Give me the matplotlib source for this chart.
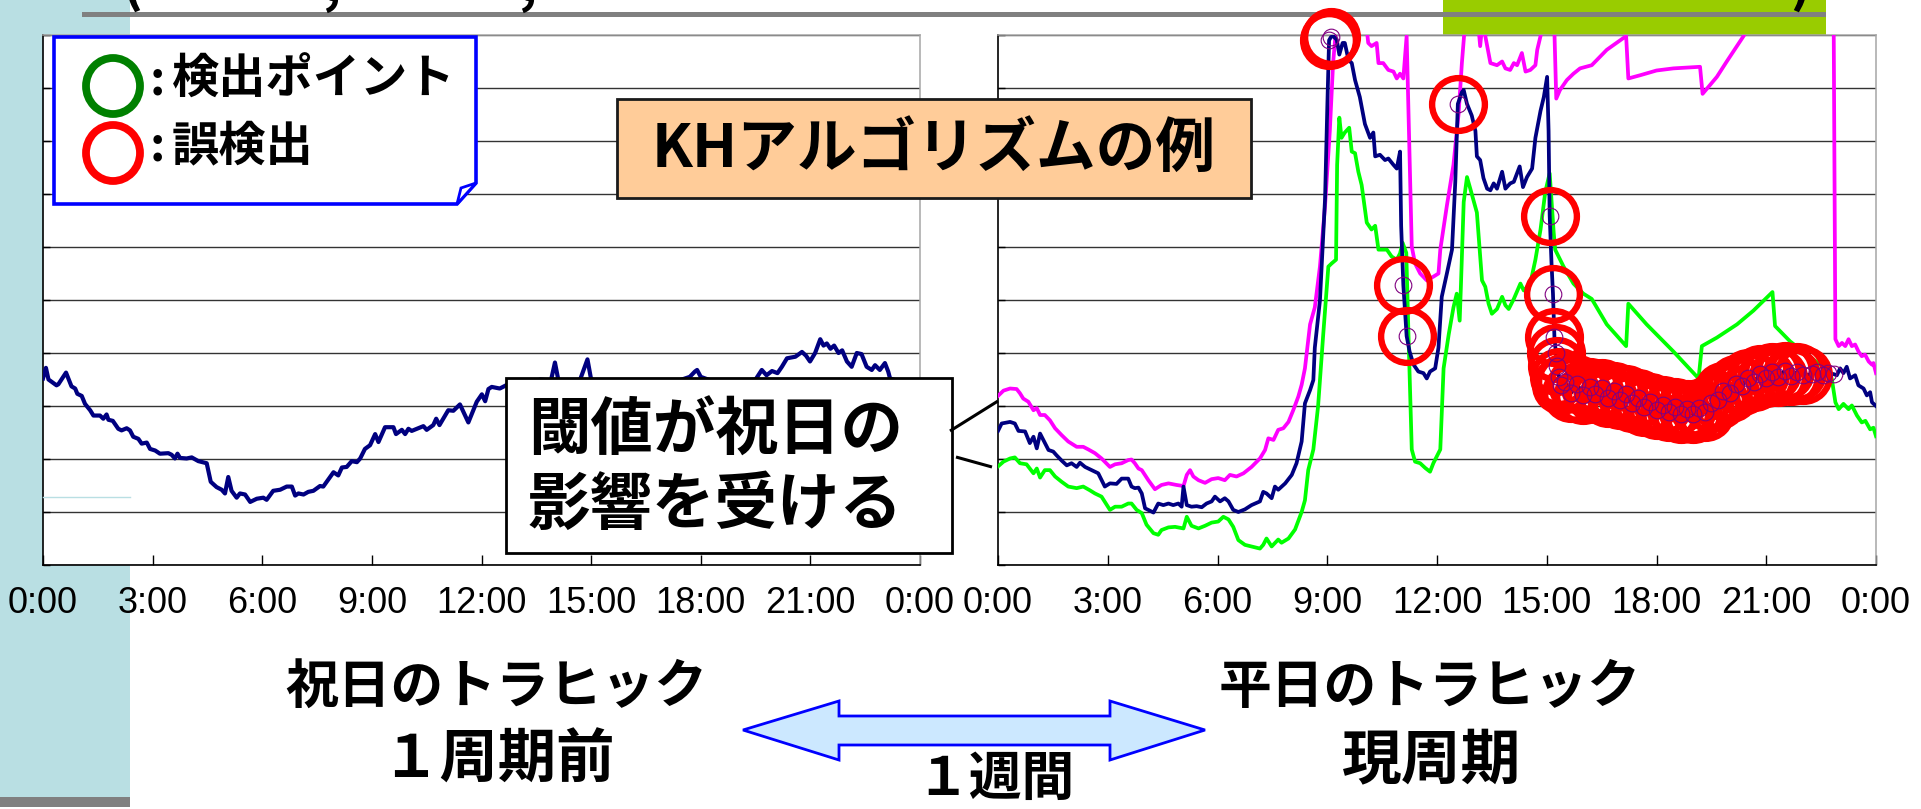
import numpy as np
import matplotlib
matplotlib.use("Agg")
import matplotlib.pyplot as plt
from matplotlib.patches import Polygon, Rectangle, Ellipse

W, H, DPI = 1921, 809, 100
CJK = ["Noto Sans CJK JP", "DejaVu Sans"]
NARROW = ["Liberation Sans Narrow", "Liberation Sans", "DejaVu Sans"]

# ---- time axis ----
tick_hours = [0, 3, 6, 9, 12, 15, 18, 21, 24]
tick_labels = ["0:00", "3:00", "6:00", "9:00", "12:00", "15:00", "18:00", "21:00", "0:00"]

# ---- holiday traffic, one period earlier (hour, level) ----
hol_pts = [
    (0.00, 3.52), (0.08, 3.72), (0.15, 3.50), (0.37, 3.39), (0.42, 3.41), (0.63, 3.63),
    (0.78, 3.37), (0.88, 3.33), (0.94, 3.23), (1.06, 3.19), (1.15, 3.04), (1.29, 2.92),
    (1.38, 2.82), (1.56, 2.82), (1.65, 2.76), (1.74, 2.84), (1.79, 2.74), (1.91, 2.72),
    (2.06, 2.57), (2.15, 2.54), (2.29, 2.58), (2.38, 2.54), (2.47, 2.42), (2.61, 2.38),
    (2.70, 2.29), (2.84, 2.31), (2.93, 2.19), (3.07, 2.16), (3.20, 2.10), (3.43, 2.11),
    (3.52, 2.08), (3.61, 2.01), (3.68, 2.10), (3.75, 2.02), (3.93, 2.01), (4.07, 2.03),
    (4.25, 1.96), (4.48, 1.92), (4.59, 1.57), (4.75, 1.47), (4.89, 1.42), (4.98, 1.35),
    (5.07, 1.66), (5.16, 1.40), (5.30, 1.27), (5.39, 1.35), (5.53, 1.33), (5.67, 1.19),
    (5.85, 1.25), (6.03, 1.27), (6.12, 1.23), (6.30, 1.40), (6.49, 1.42), (6.67, 1.48),
    (6.81, 1.48), (6.90, 1.31), (6.99, 1.35), (7.13, 1.33), (7.26, 1.38), (7.40, 1.40),
    (7.58, 1.49), (7.67, 1.48), (7.95, 1.75), (8.08, 1.69), (8.18, 1.84), (8.31, 1.85),
    (8.45, 1.96), (8.59, 1.94), (8.68, 2.01), (8.81, 2.19), (8.95, 2.26), (9.09, 2.47),
    (9.18, 2.32), (9.36, 2.60), (9.59, 2.60), (9.66, 2.47), (9.82, 2.55), (9.91, 2.47),
    (10.00, 2.57), (10.09, 2.53), (10.41, 2.62), (10.50, 2.55), (10.68, 2.64), (10.76, 2.76),
    (10.85, 2.64), (11.09, 2.92), (11.23, 2.91), (11.41, 3.03), (11.64, 2.69), (11.87, 3.08),
    (12.01, 3.22), (12.10, 3.09), (12.19, 3.32), (12.28, 3.36), (12.50, 3.33), (12.70, 3.40),
    (13.00, 3.45), (13.30, 3.38), (13.60, 3.50), (13.90, 3.48), (14.01, 3.82), (14.10, 3.50),
    (14.40, 3.45), (14.70, 3.50), (14.90, 3.88), (15.00, 3.50), (15.40, 3.45), (15.80, 3.40),
    (16.20, 3.45), (16.60, 3.40), (17.00, 3.42), (17.40, 3.48), (17.70, 3.55), (17.84, 3.65),
    (17.90, 3.68), (18.00, 3.55), (18.40, 3.45), (18.80, 3.42), (19.20, 3.48), (19.50, 3.50),
    (19.67, 3.68), (19.80, 3.58), (19.95, 3.66), (20.10, 3.62), (20.22, 3.74), (20.36, 3.90),
    (20.59, 3.93), (20.77, 4.02), (20.88, 3.95), (20.99, 3.84), (21.13, 4.00), (21.27, 4.26),
    (21.36, 4.14), (21.45, 4.18), (21.55, 4.08), (21.65, 4.14), (21.77, 4.00), (21.87, 4.05),
    (22.00, 3.84), (22.13, 3.74), (22.27, 4.00), (22.40, 3.98), (22.54, 3.74), (22.68, 3.68),
    (22.77, 3.77), (22.90, 3.68), (23.04, 3.81), (23.13, 3.65), (23.18, 3.52), (23.50, 3.45),
    (23.80, 3.40), (24.00, 3.42),
]

# ---- weekday traffic, current period ----
wk_pts = [
    (0.00, 2.53), (0.10, 2.67), (0.33, 2.70), (0.46, 2.67), (0.56, 2.53), (0.74, 2.52),
    (0.87, 2.30), (0.97, 2.42), (1.06, 2.20), (1.15, 2.48), (1.24, 2.36), (1.38, 2.17),
    (1.51, 2.14), (1.60, 2.07), (1.74, 1.97), (1.88, 1.88), (2.01, 1.92), (2.15, 1.85),
    (2.24, 1.93), (2.38, 1.85), (2.56, 1.79), (2.74, 1.73), (2.92, 1.48), (3.06, 1.54),
    (3.24, 1.53), (3.38, 1.63), (3.56, 1.63), (3.65, 1.48), (3.74, 1.45), (3.84, 1.46),
    (3.93, 1.35), (4.02, 1.07), (4.25, 0.99), (4.38, 1.16), (4.52, 1.13), (4.66, 1.16),
    (4.79, 1.13), (4.93, 1.16), (5.02, 1.10), (5.07, 1.48), (5.16, 1.13), (5.29, 1.10),
    (5.43, 1.11), (5.57, 1.09), (5.70, 1.16), (5.84, 1.20), (5.93, 1.29), (6.07, 1.20),
    (6.20, 1.26), (6.30, 1.20), (6.43, 1.04), (6.57, 1.00), (6.75, 1.05), (6.93, 1.13),
    (7.16, 1.20), (7.25, 1.38), (7.34, 1.35), (7.48, 1.26), (7.57, 1.48), (7.66, 1.42),
    (7.85, 1.54), (8.03, 1.70), (8.16, 1.92), (8.30, 2.33), (8.39, 3.05), (8.53, 3.30),
    (8.62, 3.49), (8.66, 4.10), (8.80, 4.99), (8.94, 6.91), (9.00, 8.60), (9.05, 9.90),
    (9.10, 9.96), (9.16, 9.98), (9.26, 9.91), (9.33, 9.63), (9.42, 9.85), (9.48, 9.85),
    (9.58, 9.53), (9.67, 9.47), (9.76, 9.15), (9.89, 8.83), (10.03, 8.32), (10.17, 8.06),
    (10.26, 8.16), (10.31, 7.71), (10.44, 7.74), (10.58, 7.64), (10.67, 7.67), (10.81, 7.55),
    (10.90, 7.48), (10.99, 7.80), (11.02, 6.40), (11.08, 5.28), (11.17, 4.32), (11.25, 4.03),
    (11.36, 3.78), (11.49, 3.65), (11.63, 3.62), (11.72, 3.52), (11.81, 3.65), (11.95, 3.71),
    (12.04, 4.10), (12.13, 5.06), (12.27, 5.50), (12.41, 5.95), (12.50, 7.23), (12.57, 8.70),
    (12.68, 8.92), (12.73, 8.96), (12.82, 8.70), (12.95, 8.48), (13.05, 8.19), (13.09, 7.71),
    (13.18, 7.64), (13.27, 7.30), (13.37, 7.10), (13.46, 7.07), (13.55, 7.20), (13.64, 7.10),
    (13.78, 7.42), (13.87, 7.10), (14.00, 7.20), (14.10, 7.23), (14.26, 7.52), (14.35, 7.13),
    (14.46, 7.32), (14.60, 7.48), (14.69, 8.06), (14.83, 8.57), (14.92, 8.83), (15.01, 9.21),
    (15.05, 8.19), (15.08, 6.59), (15.13, 5.70), (15.17, 5.12), (15.21, 4.30), (15.25, 4.00),
    (15.29, 3.75), (15.33, 3.55), (15.40, 3.40),
]
# evening stretch where traffic stays under the lower threshold (10-minute samples)
wk_eve_pts = [
    (15.50, 3.45), (15.67, 3.25), (15.83, 3.42), (16.00, 3.20), (16.17, 3.35),
    (16.33, 3.22), (16.50, 3.34), (16.67, 3.15), (16.83, 3.28), (17.00, 3.12),
    (17.17, 3.22), (17.33, 3.05), (17.50, 3.15), (17.67, 2.98), (17.83, 3.08),
    (18.00, 2.92), (18.17, 3.02), (18.33, 2.88), (18.50, 2.98), (18.67, 2.84),
    (18.83, 2.95), (19.00, 2.84), (19.17, 2.96), (19.33, 2.88), (19.50, 3.05),
    (19.67, 3.12), (19.83, 3.28), (20.00, 3.24), (20.17, 3.42), (20.33, 3.38),
    (20.50, 3.52), (20.67, 3.46), (20.83, 3.60), (21.00, 3.52), (21.17, 3.64),
    (21.33, 3.55), (21.50, 3.66), (21.67, 3.56), (21.83, 3.64), (22.00, 3.58),
]
wk_tail_pts = [
    (22.25, 3.60), (22.40, 3.64), (22.55, 3.58), (22.70, 3.62), (22.85, 3.60), (22.93, 3.58),
    (23.02, 3.71), (23.11, 3.62), (23.20, 3.74), (23.29, 3.52), (23.43, 3.58), (23.52, 3.39),
    (23.66, 3.33), (23.75, 3.20), (23.84, 3.26), (23.89, 3.07), (24.00, 3.00),
]

# ---- upper threshold (values above 10 run off the top of the plot) ----
upper_pts = [
    (0.00, 3.19), (0.15, 3.29), (0.33, 3.33), (0.51, 3.32), (0.60, 3.24), (0.69, 3.14),
    (0.83, 3.08), (0.97, 2.92), (1.06, 2.96), (1.15, 2.83), (1.28, 2.83), (1.42, 2.73),
    (1.56, 2.58), (1.74, 2.45), (1.92, 2.33), (2.15, 2.23), (2.33, 2.23), (2.47, 2.18),
    (2.65, 2.11), (2.83, 2.01), (3.06, 1.85), (3.20, 1.90), (3.38, 1.92), (3.56, 1.98),
    (3.65, 1.99), (3.74, 1.92), (3.84, 1.82), (3.93, 1.79), (4.11, 1.60), (4.29, 1.43),
    (4.47, 1.51), (4.66, 1.54), (4.88, 1.51), (5.07, 1.49), (5.16, 1.70), (5.25, 1.79),
    (5.34, 1.67), (5.48, 1.60), (5.66, 1.55), (5.84, 1.62), (6.02, 1.64), (6.20, 1.60),
    (6.34, 1.70), (6.52, 1.67), (6.71, 1.73), (6.93, 1.85), (7.16, 2.01), (7.30, 2.17),
    (7.39, 2.39), (7.53, 2.36), (7.66, 2.55), (7.80, 2.58), (7.94, 2.70), (8.07, 2.92),
    (8.21, 3.18), (8.30, 3.40), (8.39, 3.71), (8.53, 4.54), (8.66, 4.86), (8.80, 5.63),
    (8.94, 6.78), (9.07, 8.19), (9.16, 9.47), (9.30, 10.60), (9.70, 10.80), (10.05, 10.30),
    (10.12, 9.85), (10.21, 9.79), (10.35, 9.85), (10.40, 9.47), (10.53, 9.47), (10.67, 9.34),
    (10.81, 9.31), (10.90, 9.18), (10.99, 9.27), (11.08, 9.18), (11.17, 9.98), (11.31, 6.01),
    (11.40, 5.69), (11.54, 5.50), (11.72, 5.37), (11.90, 5.44), (12.04, 5.50), (12.09, 5.95),
    (12.27, 6.78), (12.45, 7.55), (12.59, 8.51), (12.68, 9.47), (12.80, 10.50), (13.10, 10.40),
    (13.18, 9.79), (13.25, 10.30), (13.32, 9.98), (13.46, 9.47), (13.64, 9.43), (13.78, 9.50),
    (13.87, 9.37), (14.00, 9.34), (14.10, 9.47), (14.19, 9.43), (14.32, 9.66), (14.42, 9.31),
    (14.55, 9.34), (14.69, 9.43), (14.74, 9.72), (14.83, 9.98), (15.00, 10.60), (15.20, 10.30),
    (15.26, 8.80), (15.36, 8.96), (15.55, 9.15), (15.73, 9.27), (15.91, 9.37), (16.23, 9.43),
    (16.64, 9.72), (17.17, 9.98), (17.23, 9.18), (17.55, 9.24), (18.00, 9.33), (18.46, 9.37),
    (19.19, 9.40), (19.26, 8.89), (19.65, 9.21), (19.92, 9.50), (20.38, 9.98), (21.00, 10.80),
    (22.00, 11.00), (22.84, 10.60), (22.89, 4.26), (22.98, 4.13), (23.07, 4.19), (23.16, 4.13),
    (23.25, 4.26), (23.34, 4.13), (23.43, 4.16), (23.52, 4.03), (23.61, 3.94), (23.70, 3.97),
    (23.80, 3.84), (23.89, 3.78), (23.93, 3.81), (24.00, 3.62),
]

# ---- lower threshold ----
lower_pts = [
    (0.00, 1.86), (0.15, 1.95), (0.33, 2.01), (0.46, 2.03), (0.60, 1.92), (0.78, 1.90),
    (0.97, 1.73), (1.06, 1.82), (1.15, 1.65), (1.28, 1.79), (1.42, 1.79), (1.56, 1.67),
    (1.74, 1.57), (1.92, 1.48), (2.15, 1.45), (2.33, 1.48), (2.51, 1.41), (2.65, 1.35),
    (2.83, 1.29), (3.06, 1.04), (3.20, 1.10), (3.38, 1.10), (3.56, 1.16), (3.65, 1.16),
    (3.79, 1.04), (3.93, 0.98), (4.06, 0.76), (4.25, 0.60), (4.38, 0.57), (4.47, 0.66),
    (4.66, 0.71), (4.84, 0.72), (5.07, 0.69), (5.16, 0.91), (5.29, 0.74), (5.48, 0.69),
    (5.66, 0.74), (5.84, 0.80), (6.02, 0.82), (6.16, 0.91), (6.30, 0.86), (6.43, 0.72),
    (6.57, 0.47), (6.75, 0.38), (6.93, 0.35), (7.16, 0.31), (7.25, 0.38), (7.34, 0.50),
    (7.48, 0.35), (7.66, 0.48), (7.75, 0.42), (7.94, 0.50), (8.12, 0.67), (8.30, 1.00),
    (8.39, 1.22), (8.48, 1.79), (8.62, 2.18), (8.75, 3.00), (8.89, 4.35), (9.03, 5.63),
    (9.12, 5.69), (9.24, 5.76), (9.27, 7.55), (9.33, 8.44), (9.39, 8.06), (9.48, 8.16),
    (9.60, 8.25), (9.67, 7.80), (9.76, 7.77), (9.85, 7.42), (9.94, 7.17), (10.08, 6.46),
    (10.21, 6.33), (10.31, 6.40), (10.40, 5.95), (10.63, 5.95), (10.76, 5.82), (10.90, 5.76),
    (10.99, 5.88), (11.06, 6.08), (11.16, 5.89), (11.22, 4.35), (11.31, 2.18), (11.40, 1.95),
    (11.54, 1.92), (11.68, 1.83), (11.81, 1.76), (11.90, 1.92), (12.09, 2.18), (12.18, 3.71),
    (12.32, 4.35), (12.45, 4.86), (12.54, 5.12), (12.62, 4.61), (12.65, 5.19), (12.73, 6.85),
    (12.82, 7.32), (12.91, 7.10), (13.09, 6.65), (13.23, 5.37), (13.32, 5.25), (13.41, 4.93),
    (13.50, 4.74), (13.64, 4.83), (13.78, 5.06), (13.87, 4.90), (13.96, 4.83), (14.10, 5.02),
    (14.28, 5.31), (14.37, 5.18), (14.55, 5.31), (14.69, 5.76), (14.83, 6.33), (14.96, 7.04),
    (15.08, 7.39), (15.19, 6.27), (15.23, 5.95), (15.46, 5.63), (15.73, 5.31), (16.00, 5.12),
    (16.23, 5.02), (16.64, 4.54), (17.17, 4.13), (17.23, 4.93), (17.73, 4.54), (18.46, 4.03),
    (19.15, 3.52), (19.24, 4.13), (19.65, 4.29), (20.20, 4.54), (20.65, 4.80), (21.17, 5.15),
    (21.24, 4.51), (21.65, 4.22), (22.11, 3.97), (22.48, 3.78), (22.79, 3.52), (22.89, 3.07),
    (22.98, 2.94), (23.11, 3.04), (23.25, 2.94), (23.34, 3.01), (23.48, 2.82), (23.61, 2.69),
    (23.71, 2.72), (23.84, 2.56), (23.93, 2.59), (24.00, 2.43),
]

# flagged samples (hours on the weekday traffic series)
alarm_hours = [9.05, 9.10, 11.08, 11.17, 12.57, 15.08, 15.17, 15.21, 15.25, 15.29, 15.33, 15.40]
mark_only_hours = [22.25, 22.40, 22.55, 22.70, 22.85]


def split(pts):
    a = np.array(pts, dtype=float)
    return a[:, 0], a[:, 1]


hol_h, hol_v = split(hol_pts)
wk_h, wk_v = split(wk_pts + wk_eve_pts + wk_tail_pts)
eve_h, eve_v = split(wk_eve_pts)
up_h, up_v = split(upper_pts)
lo_h, lo_v = split(lower_pts)
wk_lookup = dict(zip(np.round(wk_h, 3), wk_v))
alarm_v = np.array([wk_lookup[round(t, 3)] for t in alarm_hours])
mark_v = np.array([wk_lookup[round(t, 3)] for t in mark_only_hours])
red_h = np.concatenate([alarm_hours, eve_h])
red_v = np.concatenate([alarm_v, eve_v])
purple_h = np.concatenate([red_h, mark_only_hours])
purple_v = np.concatenate([red_v, mark_v])

NAVY, MAGENTA, LIME = "#000080", "#FF00FF", "#00FF00"
TXT = dict(family=CJK, fontweight="bold")

fig = plt.figure(figsize=(W / DPI, H / DPI), dpi=DPI)
fig.patch.set_facecolor("white")

# slide background decorations
bg = fig.add_axes([0, 0, 1, 1], zorder=0)
bg.set_xlim(0, W); bg.set_ylim(H, 0); bg.axis("off")
bg.add_patch(Rectangle((0, 0), 130, 797, color="#B9DFE3", lw=0))
bg.add_patch(Rectangle((0, 797), 130, 10, color="#808080", lw=0))
bg.add_patch(Rectangle((1443, 0), 383, 35, color="#99CC00", lw=0))
bg.add_patch(Rectangle((82, 12), 1744, 5, color="#808080", lw=0))
for x, s in [(132, "("), (331, ","), (527, ","), (1801, ")")]:
    bg.text(x, 1, s, fontsize=40, ha="center", va="baseline", color="black", **TXT)


def chart_axes(x0, x1, y0=35, y1=565):
    ax = fig.add_axes([x0 / W, 1 - y1 / H, (x1 - x0) / W, (y1 - y0) / H], zorder=1)
    ax.set_xlim(0, 24); ax.set_ylim(0, 10)
    ax.set_facecolor("white")
    ax.set_yticks(range(11)); ax.set_yticklabels([])
    ax.yaxis.grid(True, color="#333333", lw=1.0)
    ax.set_axisbelow(True)
    ax.tick_params(axis="y", direction="in", length=5, width=1, color="black")
    ax.set_xticks(tick_hours)
    ax.set_xticklabels(tick_labels, family=NARROW, fontsize=26)
    ax.tick_params(axis="x", direction="in", length=7, width=1, pad=15, color="black")
    for s in ("top", "right"):
        ax.spines[s].set_color("#A6A6A6"); ax.spines[s].set_linewidth(1.1)
    for s in ("left", "bottom"):
        ax.spines[s].set_color("black"); ax.spines[s].set_linewidth(1.2)
    return ax


axL = chart_axes(43, 920)
axL.plot(hol_h, hol_v, color=NAVY, lw=3.0, zorder=3)

axR = chart_axes(998, 1876)
axR.plot(lo_h, lo_v, color=LIME, lw=2.7, zorder=3)
axR.plot(up_h, up_v, color=MAGENTA, lw=2.7, zorder=3)
axR.plot(wk_h, wk_v, color=NAVY, lw=2.7, zorder=3)
axR.plot(red_h, red_v, ls="none", marker="o", ms=38, mfc="none", mec="#FF0000",
         mew=4.6, clip_on=False, zorder=4)
axR.plot(purple_h, purple_v, ls="none", marker="o", ms=12, mfc="none", mec="#800080",
         mew=0.8, clip_on=False, zorder=5)

# annotation layer in pixel coordinates
ov = fig.add_axes([0, 0, 1, 1], zorder=5)
ov.set_xlim(0, W); ov.set_ylim(H, 0); ov.axis("off")

ov.plot([43, 130], [497, 497], color="#B9DFE3", lw=1)

# legend note with folded corner
ov.add_patch(Polygon([(54, 37), (476, 37), (476, 183), (457, 204), (54, 204)], closed=True,
                     fc="white", ec="#0000FF", lw=2.6, joinstyle="miter"))
ov.add_patch(Polygon([(476, 183), (461, 188), (457, 204)], closed=True, fc="white",
                     ec="#0000FF", lw=2.0))
ov.add_patch(Ellipse((113, 86), 54, 56, fill=False, ec="#008000", lw=5.6))
ov.add_patch(Ellipse((113, 153), 54, 56, fill=False, ec="#FF0000", lw=5.6))
ov.text(157, 80, ":", fontsize=34, ha="center", va="center", **TXT)
ov.text(157, 146, ":", fontsize=34, ha="center", va="center", **TXT)
ov.text(172, 80, "検出ポイント", fontsize=34, ha="left", va="center", **TXT)
ov.text(172, 146, "誤検出", fontsize=34, ha="left", va="center", **TXT)

# title box
ov.add_patch(Rectangle((617, 99), 634, 99, fc="#FFCC99", ec="#1a1a1a", lw=2.0))
ov.text(934, 150, "KHアルゴリズムの例", fontsize=43, ha="center", va="center", **TXT)

# callout box with pointers to the threshold curves
ov.add_patch(Rectangle((506, 378), 446, 175, fc="white", ec="black", lw=2.0))
ov.text(528, 431, "閾値が祝日の", fontsize=45, ha="left", va="center", **TXT)
ov.text(528, 505, "影響を受ける", fontsize=45, ha="left", va="center", **TXT)
ov.plot([950, 998], [431, 401], color="black", lw=2.2, solid_capstyle="butt")
ov.plot([956, 992], [457, 467], color="black", lw=2.2, solid_capstyle="butt")

# captions
ov.text(496, 688, "祝日のトラヒック", fontsize=38, ha="center", va="center", **TXT)
ov.text(498, 761, "１周期前", fontsize=42, ha="center", va="center", **TXT)
ov.text(1430, 688, "平日のトラヒック", fontsize=38, ha="center", va="center", **TXT)
ov.text(1432, 761, "現周期", fontsize=43, ha="center", va="center", **TXT)
ov.text(995, 779, "１週間", fontsize=38, ha="center", va="center", **TXT)

# double-headed arrow
ov.add_patch(Polygon([(743, 730), (839, 701), (839, 716), (1110, 716), (1110, 701),
                      (1205, 730), (1110, 760), (1110, 745), (839, 745), (839, 760)],
                     closed=True, fc="#CCE8FF", ec="#0000FF", lw=2.0, joinstyle="miter"))

fig.savefig("out.png", dpi=DPI, facecolor="white")
